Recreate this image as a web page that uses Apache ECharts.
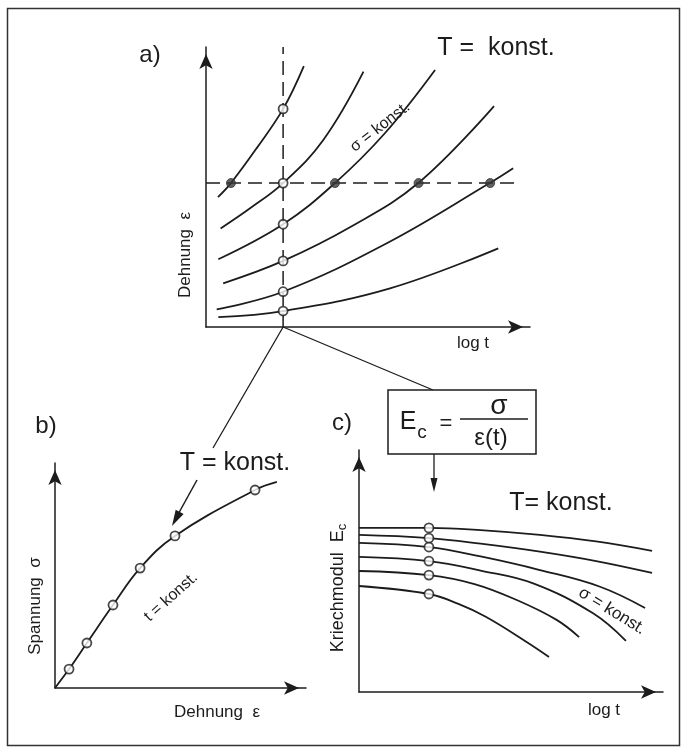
<!DOCTYPE html>
<html>
<head>
<meta charset="utf-8">
<script src="https://cdn.jsdelivr.net/npm/echarts@6/dist/echarts.min.js"></script>
<style>
  html, body { margin: 0; padding: 0; background: #fff; }
  #chart { width: 682px; height: 748px; }
</style>
</head>
<body>
<div id="chart"></div>
<script>
// a) Dehnung über log t, eine Kurve je Spannung (Achsen 0..100)
const creepCurvesA = [
  [[3.7, 46.4], [7.7, 51.4], [15.6, 63.8], [23.8, 77.9], [30.2, 93.2]],
  [[4.5, 35.2], [13.6, 42.4], [23.8, 51.4], [36.2, 66.8], [48.6, 91.2]],
  [[3.8, 24.2], [23.8, 36.7], [39.8, 51.4], [55.2, 69.2], [70.7, 91.8]],
  [[5.3, 15.6], [23.8, 23.6], [44.7, 35.8], [65.6, 51.5], [88.9, 78.9]],
  [[3.3, 6.3], [23.8, 12.6], [55.8, 29.9], [87.7, 51.5], [94.8, 56.7]],
  [[3.8, 3.5], [23.8, 5.7], [56.8, 13.8], [90.2, 28.1]]
]
const tRef = 23.8          // Isochrone (senkrecht, gestrichelt)
const epsRef = 51.4        // konstante Dehnung (waagerecht, gestrichelt)
const epsRefEnd = 95.4
const isochroneEps = [77.9, 51.4, 36.7, 23.6, 12.6, 5.7]   // offene Kreise
const isoStrainT = [7.7, 39.8, 65.6, 87.7]                 // volle Punkte

// b) isochrone Spannungs-Dehnungs-Kurve
const stressStrainB = [[0, 0], [5.6, 8.4], [12.7, 20], [23.1, 36.9], [33.9, 53.3], [47.8, 67.6], [79.7, 88], [88.4, 91.6]]
const markedB = [[5.6, 8.4], [12.7, 20], [23.1, 36.9], [33.9, 53.3], [47.8, 67.6], [79.7, 88]]

// c) Kriechmodul über log t
const modulusCurvesC = [
  [[0, 67.8], [23, 67.8], [40, 66.9], [59.5, 64.9], [78, 62.2], [96.4, 58.3]],
  [[0, 64.9], [23, 63.6], [40, 61.3], [59.5, 58.0], [78, 54.1], [96.4, 49.2]],
  [[0, 61.6], [23, 59.9], [40, 56.0], [59.5, 50.4], [79.3, 43.5], [94.1, 34.7]],
  [[0, 55.8], [23, 54.1], [40, 50.2], [57.3, 44.9], [77, 32.5], [87.8, 21.1]],
  [[0, 50], [23, 48.3], [38, 44.6], [51.9, 38.0], [65, 29.8], [72.4, 22.7]],
  [[0, 43.8], [23, 40.5], [32.7, 36.4], [41.7, 31.1], [55, 20.8], [62.5, 14.5]]
]
const tRefC = 23
const modulusAtRef = [67.8, 63.6, 59.9, 54.1, 48.3, 40.5]

const ink = '#1c1c1c'
const font = '"Liberation Sans", Arial, sans-serif'

const chart = echarts.init(document.getElementById('chart'))

const axis = gi => ({
  type: 'value', gridIndex: gi, min: 0, max: 100,
  axisLine: {
    show: true, symbol: ['none', 'arrow'], symbolSize: [10, 15], symbolOffset: [0, -7],
    lineStyle: { color: ink, width: 1.5 }
  },
  axisTick: { show: false }, axisLabel: { show: false }, splitLine: { show: false }
})

const curve = (data, gi) => ({
  type: 'line', xAxisIndex: gi, yAxisIndex: gi, data, smooth: 0.4,
  showSymbol: false, silent: true, lineStyle: { color: ink, width: 1.8 }, z: 2
})

const dashed = (data, gi) => ({
  type: 'line', xAxisIndex: gi, yAxisIndex: gi, data, showSymbol: false, silent: true,
  lineStyle: { color: ink, width: 1.5, type: [14, 7] }, z: 1
})

const dots = (data, gi, filled) => ({
  type: 'scatter', xAxisIndex: gi, yAxisIndex: gi, data, symbolSize: 9, silent: true,
  itemStyle: filled ? { color: '#3a3a3a', borderColor: '#333', borderWidth: 1 } : { color: '#fff', borderColor: ink, borderWidth: 1.8 },
  z: 5
})

const series = []
creepCurvesA.forEach(c => series.push(curve(c, 0)))
series.push(dashed([[tRef, 0], [tRef, 100]], 0))
series.push(dashed([[0, epsRef], [epsRefEnd, epsRef]], 0))
series.push(dots(isochroneEps.map(e => [tRef, e]), 0, false))
series.push(dots(isoStrainT.map(t => [t, epsRef]), 0, true))
series.push(curve(stressStrainB, 1))
series.push(dots(markedB, 1, false))
modulusCurvesC.forEach(c => series.push(curve(c, 2)))
series.push(dots(modulusAtRef.map(m => [tRefC, m]), 2, false))

chart.setOption({
  animation: false,
  grid: [
    { left: 206, top: 47, width: 324, height: 280 },
    { left: 55, top: 463, width: 251, height: 225 },
    { left: 359, top: 450, width: 304, height: 242 }
  ],
  xAxis: [axis(0), axis(1), axis(2)],
  yAxis: [axis(0), axis(1), axis(2)],
  series
})

// Beschriftungen und Verbindungslinien
const txt = (text, x, y, size, rotation) => ({
  type: 'text', x, y, rotation: rotation || 0, silent: true,
  style: { text, fill: ink, font: size + 'px ' + font, textAlign: 'center', textVerticalAlign: 'middle' }
})
const seg = (x1, y1, x2, y2, w) => ({
  type: 'line', silent: true, shape: { x1, y1, x2, y2 }, style: { stroke: ink, lineWidth: w || 1.3 }
})
const head = (x1, y1, x2, y2, len, wid) => {
  const a = Math.atan2(y2 - y1, x2 - x1)
  const bx = x2 - len * Math.cos(a), by = y2 - len * Math.sin(a)
  const nx = -Math.sin(a) * wid / 2, ny = Math.cos(a) * wid / 2
  return { type: 'polygon', silent: true, shape: { points: [[x2, y2], [bx + nx, by + ny], [bx - nx, by - ny]] }, style: { fill: ink } }
}

const origin = chart.convertToPixel({ gridIndex: 0 }, [tRef, 0])

chart.setOption({
  graphic: [
    { type: 'rect', silent: true, shape: { x: 7.5, y: 8.5, width: 672, height: 737 }, style: { fill: 'none', stroke: '#333', lineWidth: 1.5 } },
    // a)
    txt('a)', 150, 55, 24),
    txt('T =  konst.', 496, 48, 25),
    txt('σ = konst.', 380, 127, 16, 0.66),
    txt('Dehnung  ε', 185, 255, 17, Math.PI / 2),
    txt('log t', 473, 343, 17),
    // Verbindungen
    seg(origin[0], origin[1], 213, 448),
    seg(origin[0], origin[1], 433, 390),
    // b)
    txt('b)', 46, 426, 24),
    txt('T = konst.', 235, 463, 25),
    seg(197, 480, 176, 518, 1.5),
    head(197, 480, 172, 526, 16, 9),
    txt('t = konst.', 171, 597, 16, 0.73),
    txt('Spannung  σ', 35, 606, 17, Math.PI / 2),
    txt('Dehnung  ε', 217, 712, 17),
    // c)
    txt('c)', 342, 423, 24),
    { type: 'rect', silent: true, shape: { x: 388, y: 390, width: 148, height: 64 }, style: { fill: '#fff', stroke: ink, lineWidth: 1.5 } },
    txt('E', 408, 422, 25),
    txt('c', 422, 433, 19),
    txt('=', 446, 424, 22),
    txt('σ', 499, 406, 28),
    seg(460, 419, 528, 419, 1.5),
    txt('ε(t)', 491, 438, 24),
    seg(434, 454, 434, 480, 1.3),
    head(434, 454, 434, 492, 14, 7),
    txt('T= konst.', 561, 503, 25),
    txt('σ = konst.', 612, 611, 17, -0.55),
    {
      type: 'text', x: 338, y: 588, rotation: Math.PI / 2, silent: true,
      style: {
        text: '{m|Kriechmodul  E}{s|c}', fill: ink, textAlign: 'center', textVerticalAlign: 'middle',
        rich: { m: { font: '18px ' + font, fill: ink }, s: { font: '13px ' + font, fill: ink, padding: [8, 0, 0, 0] } }
      }
    },
    txt('log t', 604, 710, 17)
  ]
})
</script>
</body>
</html>
